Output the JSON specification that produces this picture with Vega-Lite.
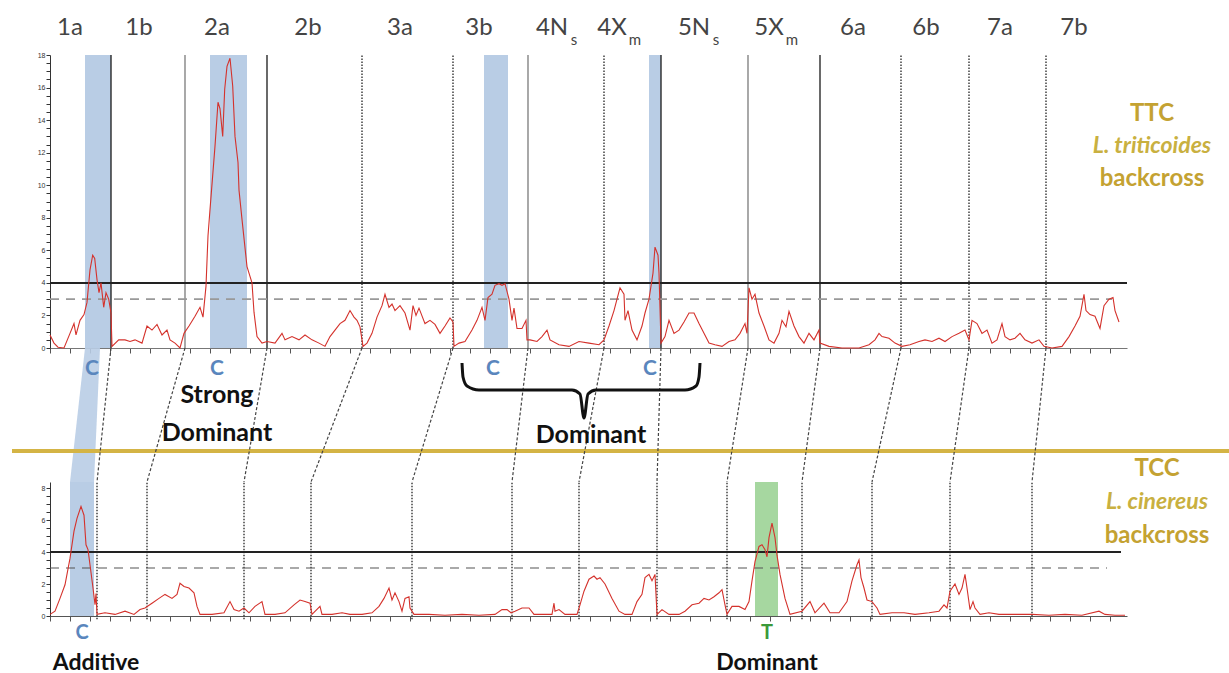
{
"$schema":"https://vega.github.io/schema/vega-lite/v6.json",
"padding":{"left":10,"top":16,"right":0,"bottom":0},
"background":"white",
"spacing":0,
"bounds":"flush",
"config":{"view":{"stroke":null},"axis":{"grid":false,"labelFont":"Liberation Sans","labelFontSize":7,"labelColor":"#333","domainColor":"#333","tickColor":"#333","tickSize":4,"labelPadding":1},"text":{"font":"Lato"}},
"vconcat":[
{
"width":1077,"height":293,
"encoding":{"x":{"field":"x","type":"quantitative","scale":{"domain":[0,1077],"nice":false,"zero":false},"axis":{"title":null,"labels":false,"tickCount":54,"domainColor":"#777","tickColor":"#555","tickSize":5}}},
"layer":[
{"data":{"values":[{"x":35,"x2":61},{"x":160,"x2":197},{"x":434,"x2":458},{"x":599,"x2":611}]},
 "mark":{"type":"rect","color":"#b9cde5"},
 "encoding":{"x2":{"field":"x2"},"y":{"datum":0,"type":"quantitative","scale":{"domain":[0,18],"nice":false},"axis":{"title":null,"values":[0,0.5,1,1.5,2,2.5,3,3.5,4,4.5,5,5.5,6,6.5,7,7.5,8,8.5,9,9.5,10,10.5,11,11.5,12,12.5,13,13.5,14,14.5,15,15.5,16,16.5,17,17.5,18],"labelExpr":"datum.value % 2 == 0 ? format(datum.value, 'd') : ''"}},"y2":{"datum":18}}},
{"data":{"values":[{"x":61},{"x":217},{"x":611},{"x":770}]},
 "mark":{"type":"rule","color":"#1a1a1a","strokeWidth":1.3},
 "encoding":{"y":{"datum":0,"type":"quantitative","scale":{"domain":[0,18],"nice":false},"axis":{"title":null,"values":[0,0.5,1,1.5,2,2.5,3,3.5,4,4.5,5,5.5,6,6.5,7,7.5,8,8.5,9,9.5,10,10.5,11,11.5,12,12.5,13,13.5,14,14.5,15,15.5,16,16.5,17,17.5,18],"labelExpr":"datum.value % 2 == 0 ? format(datum.value, 'd') : ''"}},"y2":{"datum":18}}},
{"data":{"values":[{"x":135},{"x":478},{"x":698}]},
 "mark":{"type":"rule","color":"#7a7a7a","strokeWidth":1.3},
 "encoding":{"y":{"datum":0,"type":"quantitative","scale":{"domain":[0,18],"nice":false},"axis":{"title":null,"values":[0,0.5,1,1.5,2,2.5,3,3.5,4,4.5,5,5.5,6,6.5,7,7.5,8,8.5,9,9.5,10,10.5,11,11.5,12,12.5,13,13.5,14,14.5,15,15.5,16,16.5,17,17.5,18],"labelExpr":"datum.value % 2 == 0 ? format(datum.value, 'd') : ''"}},"y2":{"datum":18}}},
{"data":{"values":[{"x":312},{"x":403},{"x":554},{"x":851},{"x":919},{"x":996}]},
 "mark":{"type":"rule","color":"#333","strokeWidth":1.4,"strokeDash":[1.5,1.5]},
 "encoding":{"y":{"datum":0,"type":"quantitative","scale":{"domain":[0,18],"nice":false},"axis":{"title":null,"values":[0,0.5,1,1.5,2,2.5,3,3.5,4,4.5,5,5.5,6,6.5,7,7.5,8,8.5,9,9.5,10,10.5,11,11.5,12,12.5,13,13.5,14,14.5,15,15.5,16,16.5,17,17.5,18],"labelExpr":"datum.value % 2 == 0 ? format(datum.value, 'd') : ''"}},"y2":{"datum":18}}},
{"data":{"values":[{"x":0,"x2":1077}]},
 "mark":{"type":"rule","color":"#222","strokeWidth":2},
 "encoding":{"x2":{"field":"x2"},"y":{"datum":4,"type":"quantitative","scale":{"domain":[0,18],"nice":false},"axis":{"title":null,"values":[0,0.5,1,1.5,2,2.5,3,3.5,4,4.5,5,5.5,6,6.5,7,7.5,8,8.5,9,9.5,10,10.5,11,11.5,12,12.5,13,13.5,14,14.5,15,15.5,16,16.5,17,17.5,18],"labelExpr":"datum.value % 2 == 0 ? format(datum.value, 'd') : ''"}}}},
{"data":{"values":[{"x":0,"x2":1062}]},
 "mark":{"type":"rule","color":"#999","strokeWidth":1.8,"strokeDash":[9,7]},
 "encoding":{"x2":{"field":"x2"},"y":{"datum":3,"type":"quantitative","scale":{"domain":[0,18],"nice":false},"axis":{"title":null,"values":[0,0.5,1,1.5,2,2.5,3,3.5,4,4.5,5,5.5,6,6.5,7,7.5,8,8.5,9,9.5,10,10.5,11,11.5,12,12.5,13,13.5,14,14.5,15,15.5,16,16.5,17,17.5,18],"labelExpr":"datum.value % 2 == 0 ? format(datum.value, 'd') : ''"}}}},
{"data":{"values":[
{"x":0,"lod":0.8},{"x":4,"lod":0.3},{"x":8,"lod":0.05},{"x":14,"lod":0},{"x":20,"lod":0.9},{"x":24,"lod":1.5},{"x":26,"lod":0.8},{"x":30,"lod":1.7},{"x":34,"lod":2.05},{"x":37,"lod":2.8},{"x":40,"lod":4.8},{"x":42.7,"lod":5.7},{"x":44.7,"lod":5.5},{"x":47,"lod":4.2},{"x":49,"lod":3.4},{"x":51,"lod":4.0},{"x":53.7,"lod":2.5},{"x":56,"lod":3.4},{"x":58.7,"lod":3.0},{"x":61,"lod":2.15},{"x":62,"lod":0.1},{"x":68.7,"lod":0.5},{"x":75,"lod":0.5},{"x":80,"lod":0.4},{"x":85,"lod":0.5},{"x":92,"lod":0.3},{"x":97,"lod":1.35},{"x":102,"lod":1.1},{"x":107,"lod":1.45},{"x":112,"lod":0.8},{"x":117,"lod":1.1},{"x":120,"lod":0.5},{"x":125,"lod":0.3},{"x":130,"lod":0},{"x":134,"lod":0.9},{"x":139,"lod":1.35},{"x":145,"lod":1.95},{"x":150,"lod":2.5},{"x":153,"lod":1.9},{"x":156,"lod":3.8},{"x":158,"lod":6.9},{"x":160,"lod":8.5},{"x":165,"lod":12.4},{"x":168,"lod":15.1},{"x":170,"lod":14.7},{"x":172.7,"lod":13.0},{"x":174.7,"lod":15.9},{"x":177,"lod":17.3},{"x":180,"lod":17.8},{"x":182.7,"lod":16.1},{"x":185,"lod":13.0},{"x":188,"lod":11.4},{"x":189,"lod":9.7},{"x":192,"lod":7.9},{"x":197,"lod":5.0},{"x":200,"lod":4.4},{"x":202,"lod":4.0},{"x":204,"lod":2.2},{"x":207,"lod":0.7},{"x":212,"lod":0.3},{"x":217,"lod":0.4},{"x":225,"lod":0.3},{"x":232,"lod":0.9},{"x":235,"lod":0.5},{"x":242,"lod":0.7},{"x":249,"lod":0.5},{"x":255,"lod":0.8},{"x":262,"lod":0.5},{"x":269,"lod":0.3},{"x":275,"lod":0.1},{"x":280,"lod":0.7},{"x":285,"lod":1.1},{"x":290,"lod":1.5},{"x":295,"lod":1.7},{"x":300,"lod":2.3},{"x":304,"lod":1.9},{"x":307,"lod":1.7},{"x":310,"lod":1.3},{"x":313,"lod":0.1},{"x":317,"lod":0.3},{"x":322,"lod":0.9},{"x":327,"lod":1.9},{"x":332,"lod":2.6},{"x":335,"lod":3.3},{"x":339,"lod":2.5},{"x":342,"lod":2.7},{"x":345,"lod":2.3},{"x":350,"lod":2.6},{"x":355,"lod":2.15},{"x":360,"lod":1.1},{"x":363,"lod":2.6},{"x":366,"lod":2.0},{"x":369,"lod":2.45},{"x":375,"lod":1.5},{"x":380,"lod":1.7},{"x":385,"lod":1.45},{"x":390,"lod":0.9},{"x":395,"lod":1.35},{"x":400,"lod":1.85},{"x":403,"lod":1.6},{"x":404,"lod":0.1},{"x":409,"lod":0.3},{"x":415,"lod":0.4},{"x":422,"lod":1.1},{"x":427,"lod":1.7},{"x":432,"lod":2.5},{"x":435,"lod":1.7},{"x":438,"lod":3.1},{"x":442,"lod":3.3},{"x":445,"lod":3.85},{"x":449,"lod":3.95},{"x":452,"lod":3.85},{"x":455,"lod":3.95},{"x":459,"lod":3.0},{"x":462,"lod":1.7},{"x":464,"lod":2.45},{"x":467,"lod":1.2},{"x":472,"lod":1.2},{"x":476,"lod":1.7},{"x":477,"lod":0.5},{"x":480,"lod":0.5},{"x":487,"lod":0.4},{"x":492,"lod":0.7},{"x":497,"lod":1.1},{"x":500,"lod":0.5},{"x":509,"lod":0.2},{"x":519,"lod":0.1},{"x":529,"lod":0.4},{"x":539,"lod":0.3},{"x":549,"lod":0.2},{"x":554,"lod":0.5},{"x":559,"lod":1.35},{"x":564,"lod":2.3},{"x":567,"lod":3.0},{"x":570,"lod":3.7},{"x":574,"lod":3.3},{"x":575,"lod":1.7},{"x":578,"lod":2.3},{"x":582,"lod":1.1},{"x":587,"lod":0.5},{"x":592,"lod":1.35},{"x":595,"lod":2.15},{"x":599,"lod":3.0},{"x":603,"lod":4.6},{"x":605,"lod":6.2},{"x":608,"lod":5.7},{"x":609,"lod":4.6},{"x":611,"lod":0.3},{"x":615,"lod":0.7},{"x":619,"lod":1.7},{"x":624,"lod":0.9},{"x":629,"lod":1.1},{"x":634,"lod":1.6},{"x":639,"lod":2.15},{"x":644,"lod":2.15},{"x":649,"lod":1.5},{"x":654,"lod":0.9},{"x":659,"lod":0.3},{"x":665,"lod":0.2},{"x":672,"lod":0.1},{"x":679,"lod":0.4},{"x":685,"lod":0.5},{"x":690,"lod":0.9},{"x":695,"lod":1.5},{"x":697,"lod":0.9},{"x":699,"lod":3.7},{"x":702,"lod":3.0},{"x":705,"lod":3.3},{"x":709,"lod":2.15},{"x":714,"lod":1.35},{"x":719,"lod":0.5},{"x":724,"lod":0.3},{"x":729,"lod":0.9},{"x":732,"lod":1.7},{"x":736,"lod":1.3},{"x":739,"lod":2.25},{"x":744,"lod":1.35},{"x":749,"lod":0.7},{"x":754,"lod":0.3},{"x":759,"lod":0.9},{"x":764,"lod":0.5},{"x":769,"lod":1.1},{"x":770,"lod":0.3},{"x":779,"lod":0.1},{"x":792,"lod":0},{"x":809,"lod":0},{"x":819,"lod":0.2},{"x":825,"lod":0.5},{"x":829,"lod":0.9},{"x":832,"lod":0.7},{"x":839,"lod":0.6},{"x":845,"lod":0.3},{"x":852,"lod":0.1},{"x":860,"lod":0.2},{"x":869,"lod":0.4},{"x":875,"lod":0.5},{"x":882,"lod":0.4},{"x":889,"lod":0.6},{"x":895,"lod":0.4},{"x":902,"lod":0.7},{"x":909,"lod":0.9},{"x":915,"lod":1.1},{"x":919,"lod":0.5},{"x":922,"lod":1.7},{"x":927,"lod":1.5},{"x":932,"lod":0.9},{"x":937,"lod":1.1},{"x":942,"lod":0.3},{"x":947,"lod":0.5},{"x":952,"lod":1.5},{"x":955,"lod":0.7},{"x":960,"lod":0.5},{"x":965,"lod":0.6},{"x":970,"lod":0.9},{"x":975,"lod":0.5},{"x":982,"lod":0.3},{"x":989,"lod":0.5},{"x":994,"lod":0.1},{"x":1002,"lod":0},{"x":1012,"lod":0.1},{"x":1019,"lod":0.7},{"x":1025,"lod":1.35},{"x":1030,"lod":1.95},{"x":1034,"lod":3.3},{"x":1036,"lod":2.3},{"x":1040,"lod":2.05},{"x":1045,"lod":1.95},{"x":1050,"lod":1.2},{"x":1054,"lod":2.6},{"x":1059,"lod":3.0},{"x":1063,"lod":3.1},{"x":1065,"lod":2.3},{"x":1069,"lod":1.6}
 ]},
 "mark":{"type":"line","color":"#d4322c","strokeWidth":1.1},
 "encoding":{"y":{"field":"lod","type":"quantitative","scale":{"domain":[0,18],"nice":false},"axis":{"title":null,"values":[0,0.5,1,1.5,2,2.5,3,3.5,4,4.5,5,5.5,6,6.5,7,7.5,8,8.5,9,9.5,10,10.5,11,11.5,12,12.5,13,13.5,14,14.5,15,15.5,16,16.5,17,17.5,18],"labelExpr":"datum.value % 2 == 0 ? format(datum.value, 'd') : ''"}}}},
{"data":{"values":[{"x":20,"y":19.2,"t":"1a"},{"x":89,"y":19.2,"t":"1b"},{"x":167,"y":19.2,"t":"2a"},{"x":258,"y":19.2,"t":"2b"},{"x":350,"y":19.2,"t":"3a"},{"x":429,"y":19.2,"t":"3b"},{"x":502,"y":19.2,"t":"4N"},{"x":562,"y":19.2,"t":"4X"},{"x":644,"y":19.2,"t":"5N"},{"x":719,"y":19.2,"t":"5X"},{"x":803,"y":19.2,"t":"6a"},{"x":876,"y":19.2,"t":"6b"},{"x":950,"y":19.2,"t":"7a"},{"x":1024,"y":19.2,"t":"7b"}]},
 "mark":{"type":"text","fontSize":24,"color":"#444","align":"center","baseline":"alphabetic"},
 "encoding":{"y":{"field":"y","type":"quantitative","scale":{"domain":[0,18],"nice":false},"axis":{"title":null,"values":[0,0.5,1,1.5,2,2.5,3,3.5,4,4.5,5,5.5,6,6.5,7,7.5,8,8.5,9,9.5,10,10.5,11,11.5,12,12.5,13,13.5,14,14.5,15,15.5,16,16.5,17,17.5,18],"labelExpr":"datum.value % 2 == 0 ? format(datum.value, 'd') : ''"}},"text":{"field":"t"}}},
{"data":{"values":[{"x":524,"y":18.6,"t":"s"},{"x":585,"y":18.6,"t":"m"},{"x":666,"y":18.6,"t":"s"},{"x":742,"y":18.6,"t":"m"}]},
 "mark":{"type":"text","fontSize":15,"color":"#444","align":"center","baseline":"alphabetic"},
 "encoding":{"y":{"field":"y","type":"quantitative","scale":{"domain":[0,18],"nice":false},"axis":{"title":null,"values":[0,0.5,1,1.5,2,2.5,3,3.5,4,4.5,5,5.5,6,6.5,7,7.5,8,8.5,9,9.5,10,10.5,11,11.5,12,12.5,13,13.5,14,14.5,15,15.5,16,16.5,17,17.5,18],"labelExpr":"datum.value % 2 == 0 ? format(datum.value, 'd') : ''"}},"text":{"field":"t"}}},
{"data":{"values":[{"x":1102,"y":13.94,"t":"TTC"},{"x":1102,"y":9.95,"t":"backcross"}]},
 "mark":{"type":"text","fontSize":24,"fontWeight":"bold","color":"#c4a232","align":"center","baseline":"alphabetic"},
 "encoding":{"y":{"field":"y","type":"quantitative","scale":{"domain":[0,18],"nice":false},"axis":{"title":null,"values":[0,0.5,1,1.5,2,2.5,3,3.5,4,4.5,5,5.5,6,6.5,7,7.5,8,8.5,9,9.5,10,10.5,11,11.5,12,12.5,13,13.5,14,14.5,15,15.5,16,16.5,17,17.5,18],"labelExpr":"datum.value % 2 == 0 ? format(datum.value, 'd') : ''"}},"text":{"field":"t"}}},
{"data":{"values":[{"x":1102,"y":12.0,"t":"L. triticoides"}]},
 "mark":{"type":"text","fontSize":23,"fontWeight":"bold","fontStyle":"italic","color":"#c9b040","align":"center","baseline":"alphabetic"},
 "encoding":{"y":{"field":"y","type":"quantitative","scale":{"domain":[0,18],"nice":false},"axis":{"title":null,"values":[0,0.5,1,1.5,2,2.5,3,3.5,4,4.5,5,5.5,6,6.5,7,7.5,8,8.5,9,9.5,10,10.5,11,11.5,12,12.5,13,13.5,14,14.5,15,15.5,16,16.5,17,17.5,18],"labelExpr":"datum.value % 2 == 0 ? format(datum.value, 'd') : ''"}},"text":{"field":"t"}}}
]
},
{
"width":1077,"height":134,
"encoding":{"x":{"field":"x","type":"quantitative","scale":{"domain":[0,1077],"nice":false,"zero":false},"axis":null}},
"layer":[
{"data":{"values":[{"x":35,"x2":50,"y":134},{"x":20,"x2":44,"y":0}]},
 "mark":{"type":"area","orient":"horizontal","color":"#b9cde5","opacity":0.9},
 "encoding":{"x2":{"field":"x2"},"y":{"field":"y","type":"quantitative","scale":{"domain":[0,134],"nice":false},"axis":null}}},
{"data":{"values":[{"x":-38,"x2":1181}]},
 "mark":{"type":"rule","color":"#d4b445","strokeWidth":4},
 "encoding":{"x2":{"field":"x2"},"y":{"datum":31,"type":"quantitative","scale":{"domain":[0,134],"nice":false},"axis":null}}},
{"data":{"values":[{"x":61,"x2":47},{"x":135,"x2":97},{"x":217,"x2":194},{"x":312,"x2":261},{"x":403,"x2":362},{"x":478,"x2":462},{"x":554,"x2":529},{"x":611,"x2":607},{"x":698,"x2":677},{"x":770,"x2":752},{"x":851,"x2":822},{"x":919,"x2":900},{"x":996,"x2":982}]},
 "mark":{"type":"rule","color":"#444","strokeWidth":1.2,"strokeDash":[3,2]},
 "encoding":{"x2":{"field":"x2"},"y":{"datum":134,"type":"quantitative","scale":{"domain":[0,134],"nice":false},"axis":null},"y2":{"datum":0}}},
{"data":{"values":[{"x":412,"y":119},{"x":413,"y":105},{"x":417,"y":96},{"x":429,"y":92},{"x":522,"y":92},{"x":530,"y":88},{"x":534,"y":64},{"x":538,"y":88},{"x":546,"y":92},{"x":635,"y":92},{"x":646,"y":96},{"x":649,"y":105},{"x":650,"y":119}]},
 "mark":{"type":"line","color":"#111","strokeWidth":3,"interpolate":"monotone"},
 "encoding":{"y":{"field":"y","type":"quantitative","scale":{"domain":[0,134],"nice":false},"axis":null}}},
{"data":{"values":[{"x":42,"y":107,"t":"C"},{"x":167,"y":107,"t":"C"},{"x":443,"y":107,"t":"C"},{"x":600,"y":107,"t":"C"}]},
 "mark":{"type":"text","fontSize":21,"fontWeight":"bold","color":"#5a86bd","align":"center","baseline":"alphabetic"},
 "encoding":{"y":{"field":"y","type":"quantitative","scale":{"domain":[0,134],"nice":false},"axis":null},"text":{"field":"t"}}},
{"data":{"values":[{"x":167,"y":79,"t":"Strong"},{"x":167,"y":41,"t":"Dominant"},{"x":541,"y":39,"t":"Dominant"}]},
 "mark":{"type":"text","fontSize":25,"fontWeight":"bold","color":"#111","align":"center","baseline":"alphabetic"},
 "encoding":{"y":{"field":"y","type":"quantitative","scale":{"domain":[0,134],"nice":false},"axis":null},"text":{"field":"t"}}}
]
},
{
"width":1077,"height":134,
"encoding":{"x":{"field":"x","type":"quantitative","scale":{"domain":[0,1077],"nice":false,"zero":false},"axis":{"title":null,"labels":false,"tickCount":54,"domainColor":"#555","tickColor":"#555","tickSize":5}}},
"layer":[
{"data":{"values":[{"x":20,"x2":44}]},
 "mark":{"type":"rect","color":"#b9cde5"},
 "encoding":{"x2":{"field":"x2"},"y":{"datum":0,"type":"quantitative","scale":{"domain":[0,8.375],"nice":false},"axis":{"title":null,"values":[0,0.5,1,1.5,2,2.5,3,3.5,4,4.5,5,5.5,6,6.5,7,7.5,8],"labelExpr":"datum.value % 2 == 0 ? format(datum.value, 'd') : ''"}},"y2":{"datum":8.375}}},
{"data":{"values":[{"x":705,"x2":728}]},
 "mark":{"type":"rect","color":"#a6d7a0"},
 "encoding":{"x2":{"field":"x2"},"y":{"datum":0,"type":"quantitative","scale":{"domain":[0,8.375],"nice":false},"axis":{"title":null,"values":[0,0.5,1,1.5,2,2.5,3,3.5,4,4.5,5,5.5,6,6.5,7,7.5,8],"labelExpr":"datum.value % 2 == 0 ? format(datum.value, 'd') : ''"}},"y2":{"datum":8.375}}},
{"data":{"values":[{"x":47},{"x":97},{"x":194},{"x":261},{"x":362},{"x":462},{"x":529},{"x":607},{"x":677},{"x":752},{"x":822},{"x":900},{"x":982}]},
 "mark":{"type":"rule","color":"#333","strokeWidth":1.4,"strokeDash":[1.5,1.5]},
 "encoding":{"y":{"datum":-0.2,"type":"quantitative","scale":{"domain":[0,8.375],"nice":false},"axis":{"title":null,"values":[0,0.5,1,1.5,2,2.5,3,3.5,4,4.5,5,5.5,6,6.5,7,7.5,8],"labelExpr":"datum.value % 2 == 0 ? format(datum.value, 'd') : ''"}},"y2":{"datum":8.375}}},
{"data":{"values":[{"x":0,"x2":1071}]},
 "mark":{"type":"rule","color":"#222","strokeWidth":2},
 "encoding":{"x2":{"field":"x2"},"y":{"datum":4,"type":"quantitative","scale":{"domain":[0,8.375],"nice":false},"axis":{"title":null,"values":[0,0.5,1,1.5,2,2.5,3,3.5,4,4.5,5,5.5,6,6.5,7,7.5,8],"labelExpr":"datum.value % 2 == 0 ? format(datum.value, 'd') : ''"}}}},
{"data":{"values":[{"x":0,"x2":1057}]},
 "mark":{"type":"rule","color":"#555","strokeWidth":1.2,"strokeDash":[9,7]},
 "encoding":{"x2":{"field":"x2"},"y":{"datum":3,"type":"quantitative","scale":{"domain":[0,8.375],"nice":false},"axis":{"title":null,"values":[0,0.5,1,1.5,2,2.5,3,3.5,4,4.5,5,5.5,6,6.5,7,7.5,8],"labelExpr":"datum.value % 2 == 0 ? format(datum.value, 'd') : ''"}}}},
{"data":{"values":[
{"x":0,"lod":0.1},{"x":5,"lod":0.3},{"x":10,"lod":1.1},{"x":15,"lod":1.95},{"x":20,"lod":3.6},{"x":24,"lod":5.3},{"x":27,"lod":6.1},{"x":31,"lod":6.85},{"x":34,"lod":6.3},{"x":36,"lod":4.45},{"x":38,"lod":4.15},{"x":40,"lod":3.2},{"x":43,"lod":1.75},{"x":45,"lod":0.7},{"x":46,"lod":1.4},{"x":47,"lod":0.1},{"x":55,"lod":0.2},{"x":65,"lod":0.1},{"x":75,"lod":0.3},{"x":84,"lod":0.1},{"x":90,"lod":0.4},{"x":95,"lod":0.5},{"x":102,"lod":0.8},{"x":109,"lod":1.1},{"x":115,"lod":1.35},{"x":122,"lod":1.1},{"x":127,"lod":1.35},{"x":130,"lod":2.05},{"x":134,"lod":1.85},{"x":139,"lod":1.75},{"x":144,"lod":1.45},{"x":147,"lod":0.6},{"x":150,"lod":0.1},{"x":162,"lod":0.1},{"x":174,"lod":0.2},{"x":180,"lod":0.9},{"x":184,"lod":0.4},{"x":189,"lod":0.3},{"x":194,"lod":0.5},{"x":199,"lod":0.2},{"x":205,"lod":0.6},{"x":212,"lod":0.9},{"x":215,"lod":0.1},{"x":225,"lod":0.1},{"x":235,"lod":0.2},{"x":244,"lod":0.7},{"x":250,"lod":1.0},{"x":255,"lod":0.9},{"x":260,"lod":0.8},{"x":262,"lod":0.1},{"x":270,"lod":0.6},{"x":272,"lod":0.1},{"x":282,"lod":0.1},{"x":292,"lod":0.2},{"x":300,"lod":0.1},{"x":312,"lod":0.1},{"x":322,"lod":0.2},{"x":329,"lod":0.6},{"x":334,"lod":1.1},{"x":339,"lod":1.75},{"x":342,"lod":1.0},{"x":345,"lod":1.45},{"x":349,"lod":0.9},{"x":352,"lod":0.3},{"x":355,"lod":1.1},{"x":359,"lod":1.2},{"x":360,"lod":0.5},{"x":364,"lod":0.1},{"x":379,"lod":0.1},{"x":395,"lod":0.05},{"x":412,"lod":0.1},{"x":429,"lod":0.05},{"x":445,"lod":0.1},{"x":452,"lod":0.4},{"x":457,"lod":0.4},{"x":461,"lod":0.2},{"x":465,"lod":0.3},{"x":472,"lod":0.5},{"x":479,"lod":0.5},{"x":484,"lod":0.1},{"x":495,"lod":0.1},{"x":502,"lod":0.1},{"x":504,"lod":0.8},{"x":505,"lod":0.3},{"x":509,"lod":0.4},{"x":515,"lod":0.1},{"x":527,"lod":0.1},{"x":530,"lod":0.7},{"x":534,"lod":1.55},{"x":539,"lod":2.3},{"x":544,"lod":2.5},{"x":547,"lod":2.3},{"x":550,"lod":2.4},{"x":555,"lod":2.0},{"x":562,"lod":1.1},{"x":569,"lod":0.3},{"x":575,"lod":0.1},{"x":582,"lod":0.1},{"x":587,"lod":0.9},{"x":592,"lod":1.35},{"x":595,"lod":2.4},{"x":599,"lod":2.6},{"x":602,"lod":2.2},{"x":605,"lod":2.6},{"x":607,"lod":0.1},{"x":612,"lod":0.4},{"x":619,"lod":0.1},{"x":629,"lod":0.1},{"x":635,"lod":0.3},{"x":642,"lod":0.7},{"x":649,"lod":0.8},{"x":654,"lod":1.1},{"x":659,"lod":1.0},{"x":664,"lod":1.2},{"x":669,"lod":1.45},{"x":672,"lod":1.65},{"x":675,"lod":0.7},{"x":677,"lod":0.1},{"x":682,"lod":0.6},{"x":689,"lod":0.6},{"x":695,"lod":0.4},{"x":699,"lod":0.9},{"x":702,"lod":2.2},{"x":705,"lod":3.4},{"x":709,"lod":4.35},{"x":712,"lod":4.45},{"x":715,"lod":4.15},{"x":717,"lod":3.7},{"x":719,"lod":4.9},{"x":722,"lod":5.8},{"x":725,"lod":4.9},{"x":727,"lod":3.8},{"x":730,"lod":2.6},{"x":735,"lod":1.1},{"x":740,"lod":0.1},{"x":752,"lod":0.3},{"x":760,"lod":0.9},{"x":765,"lod":0.2},{"x":774,"lod":0.8},{"x":780,"lod":0.2},{"x":789,"lod":0.2},{"x":797,"lod":0.9},{"x":802,"lod":2.2},{"x":807,"lod":3.2},{"x":809,"lod":3.5},{"x":811,"lod":2.4},{"x":814,"lod":1.75},{"x":817,"lod":1.0},{"x":822,"lod":0.9},{"x":827,"lod":0.5},{"x":830,"lod":0.1},{"x":842,"lod":0.2},{"x":854,"lod":0.2},{"x":865,"lod":0.1},{"x":879,"lod":0.2},{"x":889,"lod":0.3},{"x":894,"lod":0.7},{"x":897,"lod":0.5},{"x":900,"lod":1.55},{"x":905,"lod":2.0},{"x":909,"lod":1.35},{"x":912,"lod":1.75},{"x":915,"lod":2.6},{"x":917,"lod":1.75},{"x":920,"lod":0.4},{"x":923,"lod":0.9},{"x":925,"lod":0.5},{"x":930,"lod":0.1},{"x":939,"lod":0.2},{"x":949,"lod":0.1},{"x":965,"lod":0.1},{"x":982,"lod":0.1},{"x":999,"lod":0.05},{"x":1015,"lod":0.1},{"x":1032,"lod":0.05},{"x":1049,"lod":0.3},{"x":1055,"lod":0.1},{"x":1065,"lod":0.05},{"x":1075,"lod":0.05}
 ]},
 "mark":{"type":"line","color":"#d4322c","strokeWidth":1.1},
 "encoding":{"y":{"field":"lod","type":"quantitative","scale":{"domain":[0,8.375],"nice":false},"axis":{"title":null,"values":[0,0.5,1,1.5,2,2.5,3,3.5,4,4.5,5,5.5,6,6.5,7,7.5,8],"labelExpr":"datum.value % 2 == 0 ? format(datum.value, 'd') : ''"}}}},
{"data":{"values":[{"x":32,"y":-1.45,"t":"C"}]},
 "mark":{"type":"text","fontSize":20,"fontWeight":"bold","color":"#5a86bd","align":"center","baseline":"alphabetic"},
 "encoding":{"y":{"field":"y","type":"quantitative","scale":{"domain":[0,8.375],"nice":false},"axis":{"title":null,"values":[0,0.5,1,1.5,2,2.5,3,3.5,4,4.5,5,5.5,6,6.5,7,7.5,8],"labelExpr":"datum.value % 2 == 0 ? format(datum.value, 'd') : ''"}},"text":{"field":"t"}}},
{"data":{"values":[{"x":717,"y":-1.45,"t":"T"}]},
 "mark":{"type":"text","fontSize":20,"fontWeight":"bold","color":"#3a9a3a","align":"center","baseline":"alphabetic"},
 "encoding":{"y":{"field":"y","type":"quantitative","scale":{"domain":[0,8.375],"nice":false},"axis":{"title":null,"values":[0,0.5,1,1.5,2,2.5,3,3.5,4,4.5,5,5.5,6,6.5,7,7.5,8],"labelExpr":"datum.value % 2 == 0 ? format(datum.value, 'd') : ''"}},"text":{"field":"t"}}},
{"data":{"values":[{"x":46,"y":-3.375,"t":"Additive"},{"x":717,"y":-3.375,"t":"Dominant"}]},
 "mark":{"type":"text","fontSize":23,"fontWeight":"bold","color":"#111","align":"center","baseline":"alphabetic"},
 "encoding":{"y":{"field":"y","type":"quantitative","scale":{"domain":[0,8.375],"nice":false},"axis":{"title":null,"values":[0,0.5,1,1.5,2,2.5,3,3.5,4,4.5,5,5.5,6,6.5,7,7.5,8],"labelExpr":"datum.value % 2 == 0 ? format(datum.value, 'd') : ''"}},"text":{"field":"t"}}},
{"data":{"values":[{"x":1107,"y":8.75,"t":"TCC"},{"x":1107,"y":4.56,"t":"backcross"}]},
 "mark":{"type":"text","fontSize":24,"fontWeight":"bold","color":"#c4a232","align":"center","baseline":"alphabetic"},
 "encoding":{"y":{"field":"y","type":"quantitative","scale":{"domain":[0,8.375],"nice":false},"axis":{"title":null,"values":[0,0.5,1,1.5,2,2.5,3,3.5,4,4.5,5,5.5,6,6.5,7,7.5,8],"labelExpr":"datum.value % 2 == 0 ? format(datum.value, 'd') : ''"}},"text":{"field":"t"}}},
{"data":{"values":[{"x":1107,"y":6.7,"t":"L. cinereus"}]},
 "mark":{"type":"text","fontSize":23,"fontWeight":"bold","fontStyle":"italic","color":"#c9b040","align":"center","baseline":"alphabetic"},
 "encoding":{"y":{"field":"y","type":"quantitative","scale":{"domain":[0,8.375],"nice":false},"axis":{"title":null,"values":[0,0.5,1,1.5,2,2.5,3,3.5,4,4.5,5,5.5,6,6.5,7,7.5,8],"labelExpr":"datum.value % 2 == 0 ? format(datum.value, 'd') : ''"}},"text":{"field":"t"}}}
]
}
]
}
